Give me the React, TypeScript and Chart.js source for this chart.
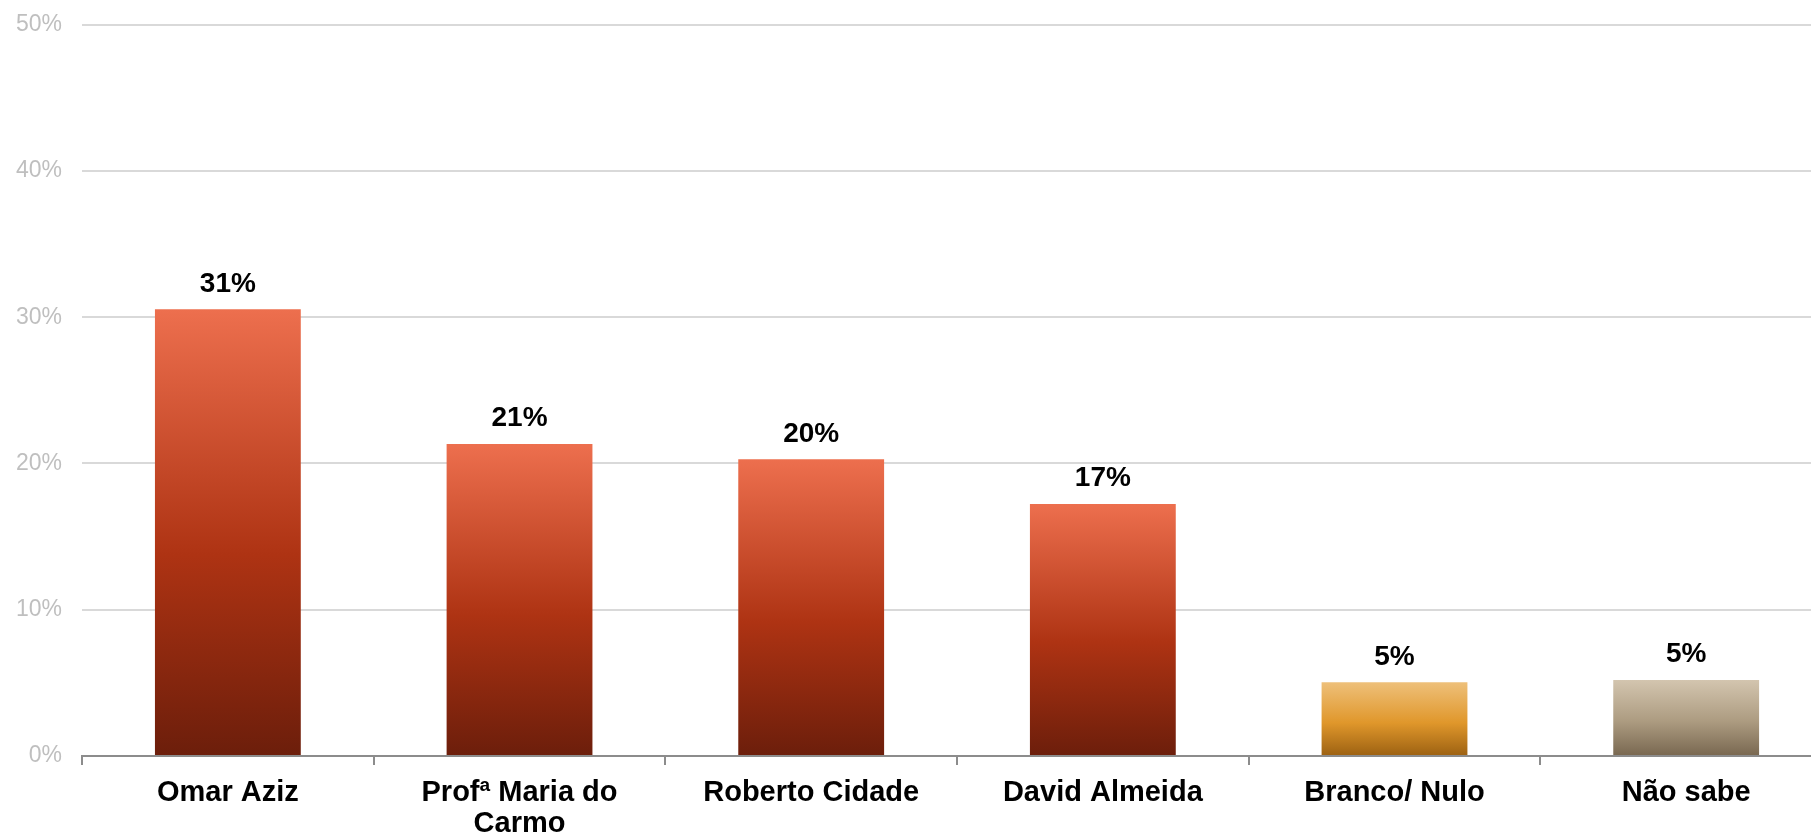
import React, { useEffect, useRef } from "react";
import { Chart, registerables } from "chart.js";

Chart.register(...registerables);

const categories: (string | string[])[] = [
  "Omar Aziz",
  ["Profª Maria do", "Carmo"],
  "Roberto Cidade",
  "David Almeida",
  "Branco/ Nulo",
  "Não sabe",
];
const values: number[] = [30.54, 21.33, 20.29, 17.23, 5.04, 5.2];
const valueLabels: string[] = ["31%", "21%", "20%", "17%", "5%", "5%"];
const yTicks: number[] = [0, 10, 20, 30, 40, 50];

// gradient stops per bar: [top, middle, bottom]
const barPalettes: string[][] = [
  ["#ED6F4E", "#AE3313", "#6C1E0B"],
  ["#ED6F4E", "#AE3313", "#6C1E0B"],
  ["#ED6F4E", "#AE3313", "#6C1E0B"],
  ["#ED6F4E", "#AE3313", "#6C1E0B"],
  ["#EEC07A", "#E0972B", "#9C6112"],
  ["#D3C5AF", "#AC9B80", "#786750"],
];

const FONT = "'Liberation Sans', Arial, sans-serif";

const valueLabelPlugin = {
  id: "valueLabels",
  afterDatasetsDraw(chart: any) {
    const { ctx } = chart;
    const meta = chart.getDatasetMeta(0);
    ctx.save();
    ctx.font = `bold 28px ${FONT}`;
    ctx.fillStyle = "#000000";
    ctx.textAlign = "center";
    ctx.textBaseline = "alphabetic";
    meta.data.forEach((bar: any, i: number) => {
      ctx.fillText(valueLabels[i], bar.x, bar.y - 17.5);
    });
    ctx.restore();
  },
};

export default function App() {
  const canvasRef = useRef<HTMLCanvasElement | null>(null);

  useEffect(() => {
    if (!canvasRef.current) return;
    const chart = new Chart(canvasRef.current, {
      type: "bar",
      data: {
        labels: categories,
        datasets: [
          {
            data: values,
            backgroundColor: (c: any) => {
              const ch = c.chart;
              const pal = barPalettes[c.dataIndex] || barPalettes[0];
              if (!ch.chartArea || c.raw === undefined) return pal[1];
              const top = ch.scales.y.getPixelForValue(c.raw);
              const bottom = ch.scales.y.getPixelForValue(0);
              const g = ch.ctx.createLinearGradient(0, top, 0, bottom);
              g.addColorStop(0, pal[0]);
              g.addColorStop(0.55, pal[1]);
              g.addColorStop(1, pal[2]);
              return g;
            },
            borderWidth: 0,
            barPercentage: 0.5,
            categoryPercentage: 1,
          },
        ],
      },
      options: {
        responsive: false,
        animation: false,
        devicePixelRatio: 1,
        layout: { padding: { left: -4, top: 24.7, right: 8, bottom: -15 } },
        plugins: {
          legend: { display: false },
          tooltip: { enabled: false },
        },
        scales: {
          x: {
            grid: {
              drawOnChartArea: false,
              drawTicks: true,
              tickLength: 9,
              tickColor: "#8C8C8C",
              lineWidth: 2,
            },
            border: { display: true, color: "#8C8C8C", width: 2 },
            ticks: {
              color: "#000000",
              padding: 13,
              maxRotation: 0,
              autoSkip: false,
              font: { family: FONT, size: 29, weight: "bold", lineHeight: 1.07 },
            },
          },
          y: {
            min: 0,
            max: 50,
            afterBuildTicks: (axis: any) => {
              axis.ticks = yTicks.map((v) => ({ value: v }));
            },
            grid: {
              color: "#D9D9D9",
              lineWidth: 2,
              drawTicks: false,
            },
            border: { display: false },
            ticks: {
              color: "#BFBFBF",
              padding: 20,
              font: { family: FONT, size: 23, lineHeight: 0.3 },
              callback: (v: any) => `${v}%`,
            },
          },
        },
      },
      plugins: [valueLabelPlugin],
    });
    return () => chart.destroy();
  }, []);

  return (
    <div
      style={{
        position: "fixed",
        left: 0,
        top: 0,
        width: "1811px",
        height: "838px",
        overflow: "hidden",
        background: "#ffffff",
      }}
    >
      <canvas
        ref={canvasRef}
        width={1840}
        height={838}
        style={{ display: "block", width: "1840px", height: "838px" }}
      />
    </div>
  );
}
